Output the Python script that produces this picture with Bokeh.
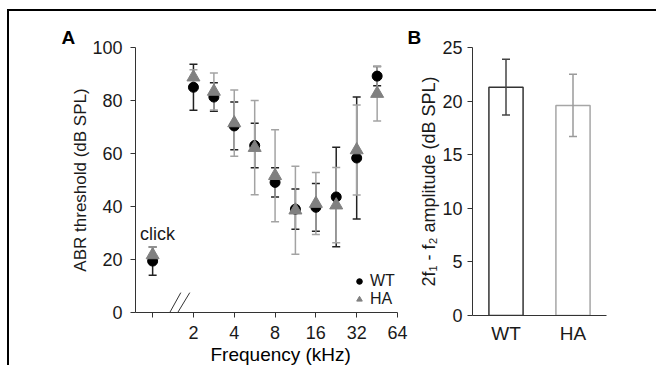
import numpy as np
from bokeh.plotting import figure
from bokeh.layouts import row
from bokeh.models import (FixedTicker, Legend, LegendItem, Label, Title,
                          FactorRange, Range1d)
from bokeh.embed import file_html
from bokeh.resources import INLINE

FONT = "Liberation Sans"

# ---------------- Panel A data: ABR thresholds ----------------
freq_khz = [2, 2.83, 4, 5.66, 8, 11.3, 16, 22.6, 32, 45.3]
wt_thr = [85.0, 81.3, 70.4, 63.0, 49.1, 39.0, 39.7, 43.6, 58.3, 89.2]
wt_err = [8.7, 5.4, 9.0, 8.4, 5.5, 7.6, 9.0, 18.8, 23.0, 3.6]
ha_thr = [88.8, 83.4, 71.5, 62.2, 51.6, 38.6, 41.1, 40.5, 61.3, 82.6]
ha_err = [2.8, 7.0, 12.5, 17.8, 17.4, 16.6, 11.7, 14.2, 17.0, 10.3]
click_slot_khz = [1]           # slot used for the click stimulus
click_wt = [19.4]
click_wt_err = [5.3]
click_ha = [21.7]
click_ha_err = [3.0]
tick_khz = [1, 2, 4, 8, 16, 32, 64]
tick_labels = ["", "2", "4", "8", "16", "32", "64"]

# ---------------- Panel B data: DPOAE amplitude ----------------
groups = ["WT", "HA"]
dp_amp = [21.3, 19.6]
dp_err = [2.6, 2.9]

WT_C = "#000000"
HA_C = "#808080"
WT_ERR_C = "#222222"
HA_ERR_C = "#a3a3a3"
AX_C = "#333333"
TXT_C = "#1a1a1a"


def style_axes(p):
    for ax in (p.xaxis + p.yaxis):
        ax.axis_line_color = AX_C
        ax.major_tick_line_color = AX_C
        ax.minor_tick_line_color = None
        ax.major_tick_in = 0
        ax.major_tick_out = 5
        ax.major_label_text_font = FONT
        ax.major_label_text_font_size = "18px"
        ax.major_label_text_color = TXT_C
        ax.axis_label_text_font = FONT
        ax.axis_label_text_font_style = "normal"
        ax.axis_label_text_color = TXT_C
    p.grid.visible = False
    p.outline_line_color = None
    p.background_fill_color = None
    p.border_fill_color = None


def panel_title(p, text, offset, place="above", size="19px", style="bold"):
    p.add_layout(Title(text=text, align="left", offset=offset, standoff=0,
                       text_font=FONT, text_font_size=size,
                       text_font_style=style, text_color="#000000"), place)


FRAME_A = {"background-image": "linear-gradient(#000,#000), linear-gradient(#000,#000)",
           "background-size": "2px 100%, 100% 2px",
           "background-position": "7px 9px, 7px 9px",
           "background-repeat": "no-repeat"}
FRAME_B = {"background-image": "linear-gradient(#000,#000)",
           "background-size": "100% 2px",
           "background-position": "0px 9px",
           "background-repeat": "no-repeat"}

# ================= Panel A =================
lx = np.log2(freq_khz)
lc = np.log2(click_slot_khz)
lt = np.log2(tick_khz)

pA = figure(frame_width=262, frame_height=265, min_border_left=135,
            min_border_right=11, min_border_top=47, min_border_bottom=53,
            x_range=Range1d(-0.42, 6.0), y_range=Range1d(0, 100),
            output_backend="svg", toolbar_location=None, styles=FRAME_A)
style_axes(pA)
pA.xaxis.ticker = FixedTicker(ticks=list(lt))
pA.xaxis.major_label_overrides = {float(t): s for t, s in zip(lt, tick_labels)}
pA.xaxis.major_label_standoff = 8
pA.yaxis.ticker = FixedTicker(ticks=[0, 20, 40, 60, 80, 100])
pA.yaxis.major_label_standoff = 8
pA.yaxis.axis_label = "ABR threshold (dB SPL)"
pA.yaxis.axis_label_text_font_size = "17px"
pA.yaxis.axis_label_standoff = -1

panel_title(pA, "A", -74)
panel_title(pA, "Frequency (kHz)", 75, place="below", size="19px",
            style="normal")


def errbars(p, x, y, e, color):
    y = np.asarray(y, float)
    e = np.asarray(e, float)
    p.segment(x0=x, y0=y - e, x1=x, y1=y + e, line_color=color, line_width=1.5)
    p.scatter(x=np.concatenate([x, x]), y=np.concatenate([y - e, y + e]),
              marker="dash", size=8, line_color=color, line_width=1.5)


errbars(pA, lx, wt_thr, wt_err, WT_ERR_C)
errbars(pA, lc, click_wt, click_wt_err, WT_ERR_C)
errbars(pA, lx, ha_thr, ha_err, HA_ERR_C)
errbars(pA, lc, click_ha, click_ha_err, HA_ERR_C)

r_wt = pA.scatter(x=lx, y=wt_thr, marker="circle", size=10,
                  fill_color=WT_C, line_color=WT_C)
pA.scatter(x=lc, y=click_wt, marker="circle", size=10,
           fill_color=WT_C, line_color=WT_C)
r_ha = pA.scatter(x=lx, y=ha_thr, marker="triangle", size=13,
                  fill_color=HA_C, line_color=HA_C)
pA.scatter(x=lc, y=click_ha, marker="triangle", size=13,
           fill_color=HA_C, line_color=HA_C)

# axis break marks "//"
BREAK_X0 = [0.15, 0.32]
BREAK_X1 = [0.69, 0.91]
BREAK_Y0 = [-7.5, -7.5]
BREAK_Y1 = [7.5, 7.5]
pA.segment(x0=BREAK_X0, y0=BREAK_Y0, x1=BREAK_X1, y1=BREAK_Y1,
           line_color=AX_C, line_width=1)

legend = Legend(items=[LegendItem(label="WT", renderers=[r_wt]),
                       LegendItem(label="HA", renderers=[r_ha])],
                location=(217, 4), border_line_color=None,
                background_fill_alpha=0, padding=0, spacing=0, margin=0,
                glyph_width=14, glyph_height=18, label_height=18,
                label_standoff=4, label_text_font=FONT,
                label_text_font_size="16px", label_text_color=TXT_C)
pA.add_layout(legend)

pA.add_layout(Label(x=0.12, y=29.8, text="click", text_font=FONT,
                    text_font_size="18px", text_color=TXT_C,
                    text_align="center", text_baseline="middle"))

# ================= Panel B =================
pB = figure(frame_width=134, frame_height=268, min_border_left=64,
            min_border_right=50, min_border_top=45, min_border_bottom=52,
            x_range=FactorRange(factors=groups), y_range=Range1d(0, 25),
            output_backend="svg", toolbar_location=None, styles=FRAME_B)
style_axes(pB)
pB.yaxis.ticker = FixedTicker(ticks=[0, 5, 10, 15, 20, 25])
pB.yaxis.major_label_standoff = 5
pB.yaxis.axis_label = "2f\u2081 - f\u2082 amplitude (dB SPL)"
pB.yaxis.axis_label_text_font_size = "18px"
pB.yaxis.axis_label_standoff = 0
pB.xaxis.major_tick_line_color = None
pB.xaxis.major_tick_out = 0
pB.xaxis.major_label_standoff = 7
pB.xaxis.major_label_text_font_size = "19px"
panel_title(pB, "B", -65)

pB.vbar(x=groups, top=dp_amp, width=0.51, fill_color="white",
        line_color=["#333333", "#a6a6a6"], line_width=1.5)
amp = np.asarray(dp_amp)
err = np.asarray(dp_err)
err_cols = ["#444444", "#9a9a9a"]
pB.segment(x0=groups, y0=amp - err, x1=groups, y1=amp + err,
           line_color=err_cols, line_width=1.5)
pB.scatter(x=groups + groups, y=list(amp - err) + list(amp + err),
           marker="dash", size=8, line_color=err_cols + err_cols,
           line_width=1.5)

layout = row(pA, pB)

open("out.html", "w").write(file_html(layout, INLINE))
